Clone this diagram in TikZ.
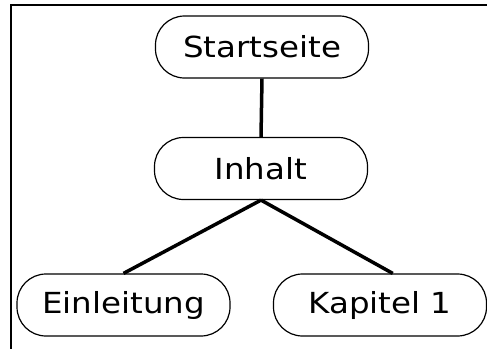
\documentclass[tikz,border=0pt]{standalone}
\usepackage{fontspec}
\setmainfont[FakeStretch=1.12]{DejaVu Sans}
\begin{document}
\begin{tikzpicture}[x=1pt,y=-1pt,
  page/.style={draw=black, line width=1.2pt, rounded corners=29pt,
    minimum width=213pt, minimum height=62pt, inner sep=0pt,
    font=\fontsize{29}{34}\selectfont},
  link/.style={draw=black, line width=3.5pt}]
  \useasboundingbox (0,0) rectangle (487,349);
  % frame along the top and left edges
  \draw[line width=2.2pt] (487,5) -- (11,5) -- (11,349);
  % pages
  \node[page] (start) at (262,47) {Startseite};
  \node[page] (inh) at (261,168.5) {Inhalt};
  \node[page] (ein) at (123.5,305) {Einleitung};
  \node[page] (kap) at (380,305) {Kapitel 1};
  % links between pages
  \draw[link] (start.south) -- (inh.north);
  \draw[link] (inh.south) -- (ein.north);
  \draw[link] (inh.south) -- (kap.68);
\end{tikzpicture}
\end{document}
